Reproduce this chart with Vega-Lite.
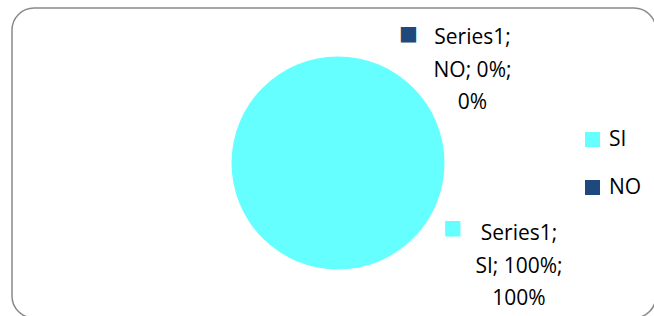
{
  "$schema": "https://vega.github.io/schema/vega-lite/v6.json",
  "width": 644,
  "height": 310,
  "padding": {"left": 12, "top": 8, "right": -2, "bottom": -2},
  "background": "white",
  "view": {"stroke": "#8a8a8a", "strokeWidth": 1.5, "cornerRadius": 22, "fill": "white"},
  "config": {
    "view": {"stroke": "#8a8a8a", "strokeWidth": 1.5, "cornerRadius": 22},
    "font": "Open Sans"
  },
  "data": {
    "values": [
      {"category": "SI", "value": 100, "label": "Series1;\nSI; 100%;\n100%"},
      {"category": "NO", "value": 0, "label": "Series1;\nNO; 0%;\n0%"}
    ]
  },
  "encoding": {
    "theta": {"field": "value", "type": "quantitative", "stack": true},
    "order": {"field": "value", "sort": "descending"},
    "color": {
      "field": "category",
      "type": "nominal",
      "scale": {"domain": ["SI", "NO"], "range": ["#66FFFF", "#1F497D"]},
      "legend": {
        "orient": "none",
        "legendX": 570,
        "legendY": 121,
        "title": null,
        "symbolType": "square",
        "symbolSize": 225,
        "symbolStrokeWidth": 0,
        "labelFont": "Open Sans",
        "labelFontSize": 21,
        "labelColor": "#000000",
        "labelOffset": 6,
        "rowPadding": 26,
        "padding": 0
      }
    }
  },
  "layer": [
    {
      "mark": {"type": "arc", "radius": 106.5, "xOffset": 4, "yOffset": 0, "stroke": null}
    },
    {
      "transform": [{"filter": "datum.category === 'NO'"}],
      "mark": {"type": "text", "radius": 107, "dx": 138.5, "dy": -12, "align": "center", "baseline": "alphabetic", "lineBreak": "\n", "lineHeight": 32.5, "fontSize": 21, "font": "Open Sans", "color": "#000000"},
      "encoding": {"text": {"field": "label"}, "color": {"value": "#000000"}}
    },
    {
      "transform": [{"filter": "datum.category === 'SI'"}],
      "mark": {"type": "text", "radius": 107, "dx": 185, "dy": -30, "align": "center", "baseline": "alphabetic", "lineBreak": "\n", "lineHeight": 32.5, "fontSize": 21, "font": "Open Sans", "color": "#000000"},
      "encoding": {"text": {"field": "label"}, "color": {"value": "#000000"}}
    },
    {
      "transform": [{"filter": "datum.category === 'NO'"}],
      "mark": {"type": "text", "radius": 107, "dx": 74.5, "dy": -22, "align": "center", "baseline": "middle", "fontSize": 20, "font": "DejaVu Sans", "text": "■"}
    },
    {
      "transform": [{"filter": "datum.category === 'SI'"}],
      "mark": {"type": "text", "radius": 107, "dx": 118.5, "dy": -42.5, "align": "center", "baseline": "middle", "fontSize": 20, "font": "DejaVu Sans", "text": "■"}
    }
  ]
}
